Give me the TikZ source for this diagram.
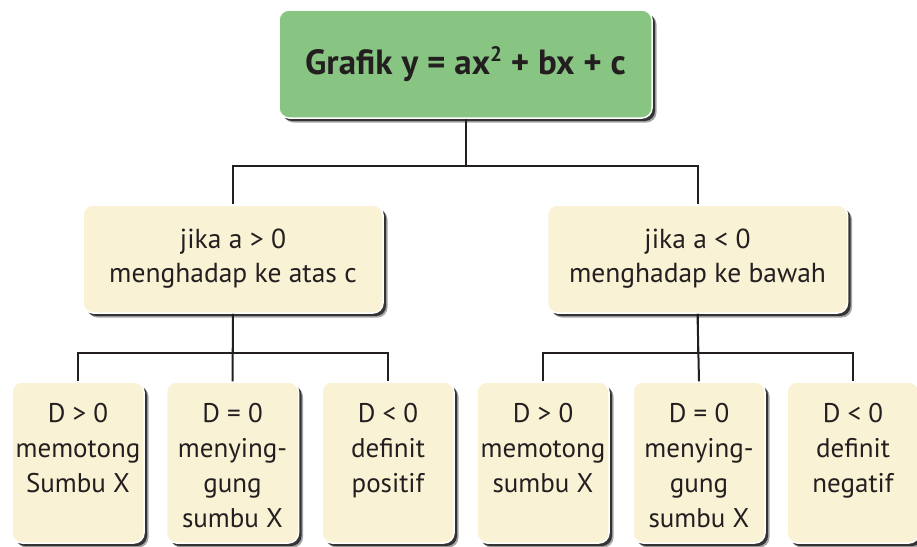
\documentclass[tikz,border=0pt]{standalone}
\usepackage{fontspec}
\setmainfont{PT Sans}
\usetikzlibrary{shadows}
\definecolor{boxgreen}{RGB}{136,196,130}
\definecolor{boxcream}{RGB}{250,242,212}
\definecolor{ink}{RGB}{35,31,32}
\begin{document}
\begin{tikzpicture}[x=1pt,y=-1pt,
  box/.style={draw=white, line width=1.5pt, rounded corners=10pt, inner sep=0pt,
    general shadow={shadow xshift=4.5pt, shadow yshift=-4.5pt, fill=black!35, draw=none},
    general shadow={shadow xshift=3pt, shadow yshift=-3pt, fill=black!80, draw=none}},
  topbox/.style={box, fill=boxgreen, minimum width=373pt, minimum height=108pt,
    font=\fontsize{35}{42}\selectfont\bfseries, text=ink},
  midbox/.style={box, fill=boxcream, minimum width=300pt, minimum height=108pt,
    align=center, font=\fontsize{27.5}{34}\selectfont, text=ink},
  lowbox/.style={box, fill=boxcream, minimum width=132pt, minimum height=161pt},
  lowtext/.style={anchor=north, align=center, inner sep=0pt, font=\fontsize{27}{35}\selectfont, text=ink},
  conn/.style={draw=ink, line width=2pt}]
\useasboundingbox (0,0) rectangle (917,546);
\fill[white] (0,0) rectangle (917,546);

\node[topbox] (top) at (465.5,64) {Grafik y = ax\raisebox{0.7ex}{\fontsize{21}{21}\selectfont 2} + bx + c};

\node[midbox] (m1) at (233,259) {jika a > 0\\menghadap ke atas c};
\node[midbox] (m2) at (697.5,259) {jika a < 0\\menghadap ke bawah};

\node[lowbox] (b1) at (78,462.5) {};
\node[lowbox] (b2) at (232.5,462.5) {};
\node[lowbox] (b3) at (388,462.5) {};
\node[lowbox] (b4) at (543,462.5) {};
\node[lowbox] (b5) at (699,462.5) {};
\node[lowbox] (b6) at (853,462.5) {};

\node[lowtext] (t1) at ([yshift=-22pt]b1.north) {D > 0\\memotong\\Sumbu X};
\node[lowtext] (t2) at ([yshift=-22pt]b2.north) {D = 0\\menying-\\gung\\sumbu X};
\node[lowtext] (t3) at ([yshift=-22pt]b3.north) {D < 0\\definit\\positif};
\node[lowtext] (t4) at ([yshift=-22pt]b4.north) {D > 0\\memotong\\sumbu X};
\node[lowtext] (t5) at ([yshift=-22pt]b5.north) {D = 0\\menying-\\gung\\sumbu X};
\node[lowtext] (t6) at ([yshift=-22pt]b6.north) {D < 0\\definit\\negatif};

\draw[conn] (top.south) -- ++(0,47) -| (m1.north);
\draw[conn] (top.south) -- ++(0,47) -| (m2.north);
\draw[conn] (m1.south) -- ++(0,39) -| (b1.north);
\draw[conn] (m1.south) -- ++(0,39) -| (b3.north);
\draw[conn] (m1.south) -- (b2.north);
\draw[conn] (m2.south) -- ++(0,39) -| (b4.north);
\draw[conn] (m2.south) -- ++(0,39) -| (b6.north);
\draw[conn] (m2.south) -- (b5.north);
\end{tikzpicture}
\end{document}
